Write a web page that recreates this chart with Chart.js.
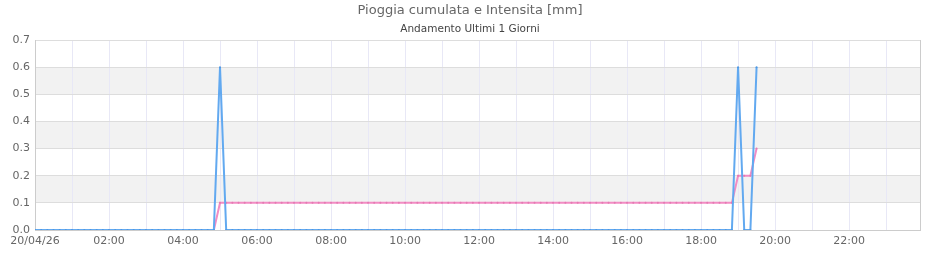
<!DOCTYPE html>
<html>
<head>
<meta charset="utf-8">
<script src="https://cdn.jsdelivr.net/npm/chart.js@4.4.1/dist/chart.umd.min.js"></script>
<style>
  html, body { margin: 0; padding: 0; background: #ffffff; }
  #wrap { width: 940px; height: 260px; }
</style>
</head>
<body>
<div id="wrap"><canvas id="c" width="940" height="260" style="width:940px;height:260px"></canvas></div>
<script>
// ---- data (10-minute readings) ----
const chartTitle = "Pioggia cumulata e Intensita [mm]";
const chartSubtitle = "Andamento Ultimi 1 Giorni";

const times = [
  "00:00","00:10","00:20","00:30","00:40","00:50",
  "01:00","01:10","01:20","01:30","01:40","01:50",
  "02:00","02:10","02:20","02:30","02:40","02:50",
  "03:00","03:10","03:20","03:30","03:40","03:50",
  "04:00","04:10","04:20","04:30","04:40","04:50",
  "05:00","05:10","05:20","05:30","05:40","05:50",
  "06:00","06:10","06:20","06:30","06:40","06:50",
  "07:00","07:10","07:20","07:30","07:40","07:50",
  "08:00","08:10","08:20","08:30","08:40","08:50",
  "09:00","09:10","09:20","09:30","09:40","09:50",
  "10:00","10:10","10:20","10:30","10:40","10:50",
  "11:00","11:10","11:20","11:30","11:40","11:50",
  "12:00","12:10","12:20","12:30","12:40","12:50",
  "13:00","13:10","13:20","13:30","13:40","13:50",
  "14:00","14:10","14:20","14:30","14:40","14:50",
  "15:00","15:10","15:20","15:30","15:40","15:50",
  "16:00","16:10","16:20","16:30","16:40","16:50",
  "17:00","17:10","17:20","17:30","17:40","17:50",
  "18:00","18:10","18:20","18:30","18:40","18:50",
  "19:00","19:10","19:20","19:30"
];

const intensita = [
  0,0,0,0,0,0,
  0,0,0,0,0,0,
  0,0,0,0,0,0,
  0,0,0,0,0,0,
  0,0,0,0,0,0,
  0.6,0,0,0,0,0,
  0,0,0,0,0,0,
  0,0,0,0,0,0,
  0,0,0,0,0,0,
  0,0,0,0,0,0,
  0,0,0,0,0,0,
  0,0,0,0,0,0,
  0,0,0,0,0,0,
  0,0,0,0,0,0,
  0,0,0,0,0,0,
  0,0,0,0,0,0,
  0,0,0,0,0,0,
  0,0,0,0,0,0,
  0,0,0,0,0,0,
  0.6,0,0,0.6
];

const cumulata = [
  0,0,0,0,0,0,
  0,0,0,0,0,0,
  0,0,0,0,0,0,
  0,0,0,0,0,0,
  0,0,0,0,0,0,
  0.1,0.1,0.1,0.1,0.1,0.1,
  0.1,0.1,0.1,0.1,0.1,0.1,
  0.1,0.1,0.1,0.1,0.1,0.1,
  0.1,0.1,0.1,0.1,0.1,0.1,
  0.1,0.1,0.1,0.1,0.1,0.1,
  0.1,0.1,0.1,0.1,0.1,0.1,
  0.1,0.1,0.1,0.1,0.1,0.1,
  0.1,0.1,0.1,0.1,0.1,0.1,
  0.1,0.1,0.1,0.1,0.1,0.1,
  0.1,0.1,0.1,0.1,0.1,0.1,
  0.1,0.1,0.1,0.1,0.1,0.1,
  0.1,0.1,0.1,0.1,0.1,0.1,
  0.1,0.1,0.1,0.1,0.1,0.1,
  0.1,0.1,0.1,0.1,0.1,0.1,
  0.2,0.2,0.2,0.3
];

// x tick labels every 2 hours (index = hour / 2)
const xTickLabels = ["20/04/26","02:00","04:00","06:00","08:00","10:00",
                     "12:00","14:00","16:00","18:00","20:00","22:00"];
// shaded bands (alternate grid) on the y axis
const bandRanges = [[0.1,0.2],[0.3,0.4],[0.5,0.6]];

// ---- helpers ----
const toMin = t => { const p = t.split(":"); return (+p[0]) * 60 + (+p[1]); };
const pts = arr => arr.map((v, i) => ({ x: toMin(times[i]), y: v }));

const FONT = "'DejaVu Sans', sans-serif";

const bandsPlugin = {
  id: 'bands',
  beforeDraw(chart) {
    const { ctx, chartArea: a, scales: { y } } = chart;
    ctx.save();
    ctx.fillStyle = '#f2f2f2';
    bandRanges.forEach(([lo, hi]) => {
      const top = y.getPixelForValue(hi), bot = y.getPixelForValue(lo);
      ctx.fillRect(a.left, top, a.right - a.left, bot - top);
    });
    ctx.restore();
  },
  afterDatasetsDraw(chart) {
    const { ctx, chartArea: a } = chart;
    ctx.save();
    ctx.strokeStyle = '#cccccc';
    ctx.lineWidth = 1;
    ctx.beginPath();
    ctx.moveTo(Math.round(a.right) + 0.5, a.top);
    ctx.lineTo(Math.round(a.right) + 0.5, a.bottom);
    ctx.stroke();
    ctx.restore();
  }
};

new Chart(document.getElementById('c'), {
  type: 'line',
  data: {
    datasets: [
      {
        label: 'Intensita',
        data: pts(intensita),
        borderColor: '#62a9f0',
        backgroundColor: '#4d97e3',
        borderWidth: 2,
        pointRadius: 1,
        pointBorderWidth: 0,
        pointBackgroundColor: '#4d97e3',
        tension: 0,
        fill: false
      },
      {
        label: 'Cumulata',
        data: pts(cumulata),
        borderColor: '#f28cc4',
        backgroundColor: '#e47ab2',
        borderWidth: 2,
        pointRadius: 1,
        pointBorderWidth: 0,
        pointBackgroundColor: '#e47ab2',
        tension: 0,
        fill: false
      }
    ]
  },
  options: {
    responsive: false,
    animation: false,
    devicePixelRatio: 1,
    layout: { padding: { left: 0, right: 0, top: 0, bottom: 0 } },
    plugins: {
      legend: { display: false },
      tooltip: { enabled: false },
      title: {
        display: true,
        text: chartTitle,
        color: '#666666',
        font: { family: FONT, size: 13, weight: 'normal' },
        padding: { top: 3, bottom: 4 }
      },
      subtitle: {
        display: true,
        text: chartSubtitle,
        color: '#444444',
        font: { family: FONT, size: 10.5, weight: 'normal' },
        padding: { top: 0, bottom: 4.8 }
      }
    },
    scales: {
      x: {
        type: 'linear',
        min: 0,
        max: 1435,
        afterFit: s => { s.height = 30; },
        border: { display: true, color: '#cccccc' },
        grid: { color: '#e8e8f6', drawTicks: false },
        ticks: {
          stepSize: 60,
          includeBounds: false,
          autoSkip: false,
          maxRotation: 0,
          padding: 5,
          color: '#666666',
          font: { family: FONT, size: 11 },
          callback: v => (v % 120 === 0 ? xTickLabels[v / 120] : '')
        }
      },
      y: {
        min: 0,
        max: 0.7,
        afterFit: s => { s.width = 35; },
        border: { display: true, color: '#cccccc' },
        grid: { color: '#dddddd', drawTicks: false },
        ticks: {
          stepSize: 0.1,
          padding: 5,
          color: '#666666',
          font: { family: FONT, size: 11 },
          callback: v => Number(v).toFixed(1)
        }
      },
      yRight: {
        position: 'right',
        display: true,
        afterFit: s => { s.width = 20; },
        border: { display: false },
        grid: { display: false, drawTicks: false },
        ticks: { display: false }
      }
    }
  },
  plugins: [bandsPlugin]
});
</script>
</body>
</html>
